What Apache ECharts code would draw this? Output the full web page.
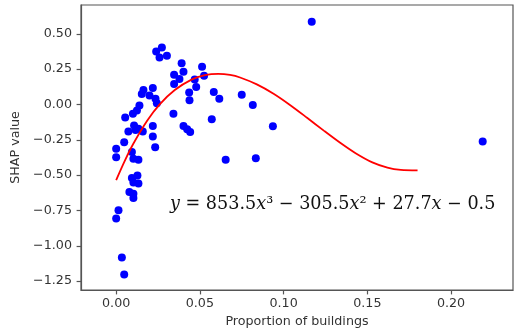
<!DOCTYPE html>
<html>
<head>
<meta charset="UTF-8">
<title></title>
<script src="https://cdn.jsdelivr.net/npm/echarts@6/dist/echarts.min.js"></script>
<style>
  html, body { margin: 0; padding: 0; background: #fff; }
  #chart { width: 516px; height: 335px; }
</style>
</head>
<body>
<div id="chart"></div>
<script type="text/javascript">
// scatter points: proportion of buildings, SHAP value
var proportion = [0.0239, 0.0273, 0.0259, 0.0303, 0.0391, 0.0402, 0.0346, 0.0378, 0.0346, 0.0513,
  0.0525, 0.0469, 0.0478, 0.0436, 0.0438, 0.0583, 0.0616, 0.0163, 0.0219, 0.0153,
  0.0199, 0.0235, 0.0243, 0.0139, 0.0124, 0.0100, 0.0054, 0.0342, 0.0571, 0.0107,
  0.0073, 0.0219, 0.0402, 0.0424, 0.0442, 0.0116, 0.0159, 0.0219, 0.0233, 0.0048,
  0.0000, 0.0000, 0.0094, 0.0103, 0.0133, 0.0654, 0.0094, 0.0127, 0.0133, 0.0103,
  0.0079, 0.0103, 0.0103, 0.0014, 0.0000, 0.0034, 0.0048, 0.1168, 0.0750, 0.0816,
  0.0936, 0.0834, 0.2189, 0.0133];
var shap = [0.375, 0.404, 0.333, 0.345, 0.292, 0.232, 0.211, 0.181, 0.145, 0.267,
  0.204, 0.176, 0.123, 0.084, 0.030, 0.089, 0.040, 0.103, 0.117, 0.075,
  0.063, 0.040, 0.008, -0.008, -0.043, -0.066, -0.092, -0.066, -0.105, -0.149,
  -0.191, -0.152, -0.152, -0.176, -0.195, -0.181, -0.191, -0.227, -0.302, -0.267,
  -0.313, -0.373, -0.337, -0.384, -0.391, -0.391, -0.521, -0.502, -0.560, -0.553,
  -0.620, -0.631, -0.662, -0.749, -0.807, -1.083, -1.203, 0.585, 0.068, -0.003,
  -0.154, -0.380, -0.262, -0.172];

// fitted curve
var fitX = [0.000, 0.005, 0.010, 0.0185, 0.026, 0.035, 0.045, 0.053, 0.061, 0.068, 0.074,
  0.084, 0.094, 0.104, 0.114, 0.124, 0.134, 0.143, 0.153, 0.162, 0.170, 0.180];
var fitY = [-0.535, -0.402, -0.283, -0.115, 0.001, 0.102, 0.176, 0.207, 0.216, 0.209, 0.191,
  0.142, 0.076, -0.005, -0.094, -0.185, -0.273, -0.345, -0.410, -0.447, -0.463, -0.466];

var xTicks = [0, 0.05, 0.1, 0.15, 0.2];
var yTicks = [-1.25, -1, -0.75, -0.5, -0.25, 0, 0.25, 0.5];

var chart = echarts.init(document.getElementById('chart'));

var pts = proportion.map(function (x, i) { return [x, shap[i]]; });
var curve = fitX.map(function (x, i) { return [x, fitY[i]]; });

function fmt(v) {
  var s = Math.abs(v).toFixed(2);
  return v < -1e-9 ? '\u2212' + s : s;
}

var axisText = { fontFamily: 'DejaVu Sans', fontSize: 12.7, color: '#333' };
var spine = { color: '#555', width: 1.2 };

var option = {
  animation: false,
  grid: { left: 81, top: 5, right: 3, bottom: 45, show: true, borderColor: '#555', borderWidth: 1.2 },
  xAxis: {
    type: 'value', min: -0.021, max: 0.237,
    name: 'Proportion of buildings', nameLocation: 'middle', nameGap: 25,
    nameTextStyle: axisText,
    axisLine: { show: true, onZero: false, lineStyle: spine },
    axisTick: { show: true, length: 4.4, customValues: xTicks, lineStyle: spine },
    axisLabel: Object.assign({ customValues: xTicks, margin: 7, formatter: fmt }, axisText),
    splitLine: { show: false }
  },
  yAxis: {
    type: 'value', min: -1.313, max: 0.704,
    name: 'SHAP value', nameLocation: 'middle', nameGap: 57,
    nameTextStyle: axisText,
    axisLine: { show: true, onZero: false, lineStyle: spine },
    axisTick: { show: true, length: 4.4, customValues: yTicks, lineStyle: spine },
    axisLabel: Object.assign({ customValues: yTicks, margin: 9, formatter: fmt }, axisText),
    splitLine: { show: false }
  },
  series: [
    {
      type: 'scatter', data: pts, symbolSize: 8,
      itemStyle: { color: '#0000ff', opacity: 1 }, z: 2
    },
    {
      type: 'line', data: curve, smooth: 0.3, symbol: 'none',
      lineStyle: { color: '#ff0000', width: 1.8 }, z: 3
    }
  ],
  graphic: [{
    type: 'text', left: 170, top: 195,
    style: {
      text: '{i|y} = 853.5{i|x}\u00b3 \u2212 305.5{i|x}\u00b2 + 27.7{i|x} \u2212 0.5',
      font: '17.6px "DejaVu Serif"', fill: '#111',
      rich: { i: { fontStyle: 'italic', fontFamily: 'DejaVu Serif', fontSize: 17.6, fill: '#111' } }
    }
  }]
};
chart.setOption(option);
</script>
</body>
</html>
